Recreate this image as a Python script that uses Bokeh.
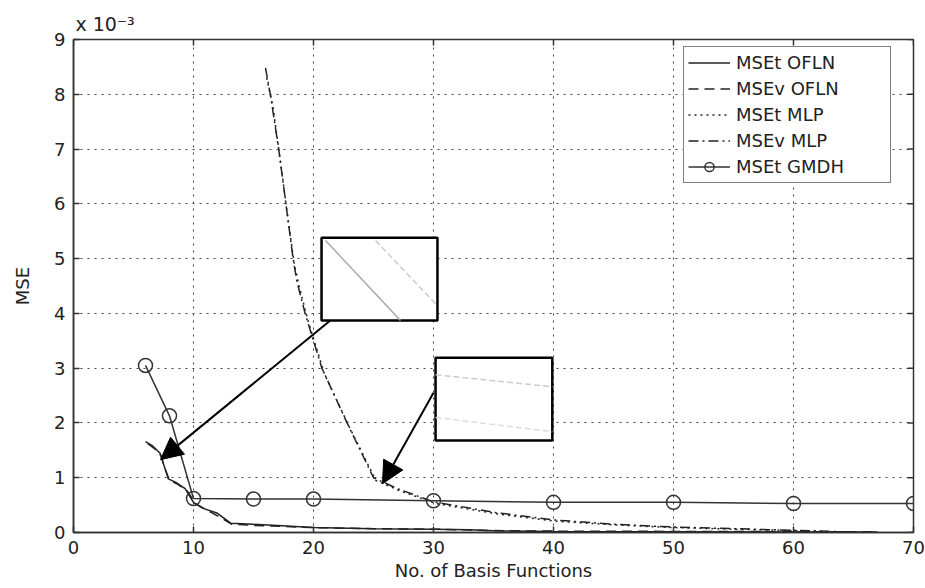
from bokeh.plotting import figure
from bokeh.models import (Range1d, FixedTicker, Legend, LegendItem, Title,
                          Arrow, NormalHead)
from bokeh.embed import file_html
from bokeh.resources import INLINE

# ---- data (MSE values in units of 1e-3) ----
x_ticks = [0, 10, 20, 30, 40, 50, 60, 70]
y_ticks = [0, 1, 2, 3, 4, 5, 6, 7, 8, 9]

x_t_ofln = [6, 6.6, 7.2, 7.5, 7.9, 8.5, 9.3, 10, 10.8, 12, 13.1, 15, 17, 20, 25, 30, 33, 35, 40, 50, 60, 67]
y_t_ofln = [1.66, 1.58, 1.45, 1.25, 0.98, 0.92, 0.80, 0.55, 0.44, 0.35, 0.17, 0.15, 0.13, 0.09, 0.07, 0.06, 0.05, 0.03, 0.02, 0.015, 0.01, 0.01]

x_v_ofln = [6.2, 6.8, 7.3, 7.6, 8.0, 8.7, 9.5, 10.2, 11.2, 12.2, 13.2, 15, 20, 25, 30, 35, 40, 50, 60, 67]
y_v_ofln = [1.62, 1.52, 1.40, 1.18, 0.95, 0.88, 0.75, 0.52, 0.40, 0.28, 0.15, 0.13, 0.09, 0.07, 0.06, 0.035, 0.025, 0.02, 0.015, 0.012]

x_t_mlp = [16.1, 16.6, 17.2, 17.8, 18.4, 18.8, 19.5, 20.9, 23.0, 25.2, 27.2, 30.2, 35, 40, 45, 50, 55, 60, 63]
y_t_mlp = [8.30, 7.80, 6.85, 5.85, 4.90, 4.50, 3.90, 2.90, 1.92, 0.95, 0.76, 0.53, 0.35, 0.21, 0.14, 0.09, 0.06, 0.035, 0.02]

x_v_mlp = [16, 16.4, 17.1, 17.7, 18.3, 18.6, 19.3, 20.7, 22.8, 25, 27, 30, 35, 40, 45, 50, 55, 60, 63, 65]
y_v_mlp = [8.48, 8.0, 7.0, 6.0, 5.0, 4.6, 4.0, 3.0, 2.0, 1.0, 0.8, 0.56, 0.37, 0.23, 0.15, 0.10, 0.07, 0.04, 0.02, 0.01]

x_gmdh = [6, 8, 10, 15, 20, 30, 40, 50, 60, 70]
y_gmdh = [3.05, 2.13, 0.62, 0.61, 0.61, 0.58, 0.55, 0.55, 0.53, 0.53]

# inset boxes [left, right, bottom, top] and their zoomed lines
inset1_box = [20.67, 30.33, 3.87, 5.38]
inset1_a_x = [21.0, 27.25]
inset1_a_y = [5.33, 3.87]
inset1_b_x = [25.17, 30.33]
inset1_b_y = [5.33, 4.14]
inset2_box = [30.17, 39.9, 1.68, 3.19]
inset2_a_x = [30.17, 39.9]
inset2_a_y = [2.88, 2.66]
inset2_b_x = [30.17, 39.9]
inset2_b_y = [2.10, 1.84]

# arrows: (start x, start y, end x, end y)
arrow1 = [21.4, 3.87, 7.25, 1.33]
arrow2 = [30.0, 2.55, 25.75, 0.89]

FONT = "DejaVu Sans"
TXT = "#222222"
AX = "#333333"
FS = "18px"

p = figure(frame_width=840, frame_height=493, output_backend="svg", toolbar_location=None,
           x_range=Range1d(0, 70), y_range=Range1d(0, 9),
           min_border_left=73, min_border_right=12, min_border_top=39, min_border_bottom=56)
p.background_fill_color = "white"
p.border_fill_color = "white"
p.outline_line_color = AX
p.outline_line_width = 1.5

for ax, t in ((p.xaxis[0], x_ticks), (p.yaxis[0], y_ticks)):
    ax.ticker = FixedTicker(ticks=t)
    ax.major_tick_in = 6
    ax.major_tick_out = 0
    ax.minor_tick_line_color = None
    ax.axis_line_color = AX
    ax.axis_line_width = 1.5
    ax.major_tick_line_color = AX
    ax.major_tick_line_width = 1.5
    ax.major_label_text_font = FONT
    ax.major_label_text_font_size = FS
    ax.major_label_text_color = TXT
    ax.axis_label_text_font = FONT
    ax.axis_label_text_font_size = FS
    ax.axis_label_text_font_style = "normal"
    ax.axis_label_text_color = TXT

p.xaxis.axis_label = "No. of Basis Functions"
p.yaxis.axis_label = "MSE"
p.xaxis.major_label_standoff = 8
p.yaxis.major_label_standoff = 8
p.xaxis.axis_label_standoff = 3
p.yaxis.axis_label_standoff = 18

p.xgrid.ticker = FixedTicker(ticks=x_ticks)
p.ygrid.ticker = FixedTicker(ticks=y_ticks)
for g in (p.xgrid[0], p.ygrid[0]):
    g.grid_line_color = "#444444"
    g.grid_line_dash = "2 5"
    g.grid_line_width = 1

# inner tick marks on the top and right frame edges (MATLAB box style)
p.scatter(x_ticks, [y_ticks[-1]] * len(x_ticks), marker="dash", angle=1.5708,
          size=12, line_color=AX, line_width=1.5)
p.scatter([x_ticks[-1]] * len(y_ticks), y_ticks, marker="dash",
          size=12, line_color=AX, line_width=1.5)

LC = "#222222"
r1 = p.line(x_t_ofln, y_t_ofln, line_color=LC, line_width=1.5)
r2 = p.line(x_v_ofln, y_v_ofln, line_color=LC, line_width=1.5, line_dash="10 6")
r3 = p.line(x_t_mlp, y_t_mlp, line_color=LC, line_width=1.5, line_dash="2 4")
r4 = p.line(x_v_mlp, y_v_mlp, line_color=LC, line_width=1.5, line_dash="10 4 2 4")
r5 = p.line(x_gmdh, y_gmdh, line_color="#333333", line_width=1.5)
r5m = p.scatter(x_gmdh, y_gmdh, marker="circle", size=14, fill_color=None,
                line_color="#333333", line_width=1.5)

# inset boxes
for box, ax_, ay_, bx_, by_, ca, cb, da, db in (
        (inset1_box, inset1_a_x, inset1_a_y, inset1_b_x, inset1_b_y, "#aaaaaa", "#cccccc", "solid", "6 3"),
        (inset2_box, inset2_a_x, inset2_a_y, inset2_b_x, inset2_b_y, "#cccccc", "#dddddd", "6 3", "6 3")):
    p.quad(left=[box[0]], right=[box[1]], bottom=[box[2]], top=[box[3]],
           fill_color="white", line_color="black", line_width=2.5)
    p.line(ax_, ay_, line_color=ca, line_width=1.5, line_dash=da)
    p.line(bx_, by_, line_color=cb, line_width=1.5, line_dash=db)

for a in (arrow1, arrow2):
    p.add_layout(Arrow(x_start=a[0], y_start=a[1], x_end=a[2], y_end=a[3],
                       line_color="black", line_width=2,
                       end=NormalHead(size=22, fill_color="black", line_color="black")))

legend = Legend(items=[
    LegendItem(label="MSEt OFLN", renderers=[r1]),
    LegendItem(label="MSEv OFLN", renderers=[r2]),
    LegendItem(label="MSEt MLP", renderers=[r3]),
    LegendItem(label="MSEv MLP", renderers=[r4]),
    LegendItem(label="MSEt GMDH", renderers=[r5, r5m]),
], location=(610, 349))
legend.label_text_font = FONT
legend.label_text_font_size = FS
legend.label_text_color = TXT
legend.glyph_width = 42
legend.glyph_height = 23
legend.label_height = 23
legend.label_width = 150
legend.label_standoff = 6
legend.padding = 4
legend.spacing = 3
legend.margin = 0
legend.border_line_color = "black"
legend.border_line_width = 1.5
legend.background_fill_color = "white"
legend.background_fill_alpha = 1
p.add_layout(legend, "center")

p.add_layout(Title(text="x 10\u207b\u00b3", align="left", offset=2, standoff=10,
                   text_font=FONT, text_font_size="19px", text_font_style="normal",
                   text_color=TXT), "above")

open("out.html", "w").write(file_html(p, INLINE))
